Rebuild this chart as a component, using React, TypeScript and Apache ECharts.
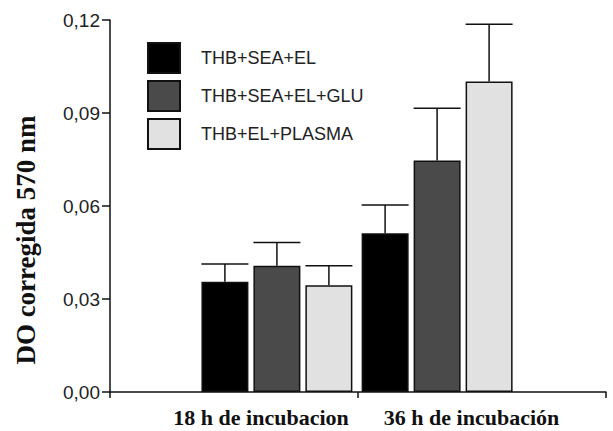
import React, { useEffect, useRef } from "react";
import * as echarts from "echarts";

const categories = ["18 h de incubacion", "36 h de incubación"];
const seriesNames = ["THB+SEA+EL", "THB+SEA+EL+GLU", "THB+EL+PLASMA"];
const meanSeaEl = [0.0356, 0.0512];
const meanSeaElGlu = [0.0407, 0.0747];
const meanElPlasma = [0.0344, 0.1002];
const errSeaEl = [0.0057, 0.0091];
const errSeaElGlu = [0.0075, 0.0168];
const errElPlasma = [0.0063, 0.0184];
const yTicks = [0, 0.03, 0.06, 0.09, 0.12];

// layout constants (axis units on the 0..2 x scale)
const groupX = [0.673, 1.319];
const labelX = [0.609, 1.458];
const colors = ["#000000", "#4a4a4a", "#e1e1e1"];
const BAR_W = 47;
const GAP = 5;

export default function App() {
  const ref = useRef<HTMLDivElement>(null);
  useEffect(() => {
    if (!ref.current) return;
    const chart = echarts.init(ref.current, undefined, { renderer: "svg" });
    const means = [meanSeaEl, meanSeaElGlu, meanElPlasma];
    const errs = [errSeaEl, errSeaElGlu, errElPlasma];
    const barSeries = seriesNames.map((name, i) => ({
      name,
      type: "bar",
      barWidth: BAR_W,
      barGap: ((GAP / BAR_W) * 100).toFixed(1) + "%",
      data: means[i].map((v, j) => [groupX[j], v]),
      itemStyle: { color: colors[i], borderColor: "#111", borderWidth: 1.5 },
      emphasis: { disabled: true },
    }));
    const errData: number[][] = [];
    means.forEach((m, i) =>
      m.forEach((v, j) => errData.push([groupX[j], v, errs[i][j], i]))
    );
    const errSeries = {
      type: "custom",
      name: "err",
      z: 5,
      data: errData,
      renderItem: (params: any, api: any) => {
        const x = api.value(0);
        const y = api.value(1);
        const e = api.value(2);
        const idx = api.value(3);
        const p = api.coord([x, y]);
        const t = api.coord([x, y + e]);
        const cx = p[0] + (idx - 1) * (BAR_W + GAP);
        const style = { stroke: "#111", lineWidth: 1.5 };
        return {
          type: "group",
          children: [
            { type: "line", shape: { x1: cx, y1: p[1], x2: cx, y2: t[1] }, style },
            {
              type: "line",
              shape: { x1: cx - BAR_W / 2, y1: t[1], x2: cx + BAR_W / 2, y2: t[1] },
              style,
            },
          ],
        };
      },
    };
    chart.setOption({
      animation: false,
      backgroundColor: "#ffffff",
      grid: { left: 110, top: 20, right: 7, bottom: 39, containLabel: false },
      legend: {
        orient: "vertical",
        left: 147,
        top: 42,
        padding: 0,
        itemWidth: 32,
        itemHeight: 30,
        itemGap: 6,
        icon: "rect",
        data: seriesNames,
        textStyle: {
          fontFamily: "Liberation Sans, Arial, sans-serif",
          fontSize: 18,
          color: "#222",
          padding: [0, 0, 0, 16],
        },
        selectedMode: false,
      },
      xAxis: {
        type: "value",
        min: 0,
        max: 2,
        interval: 1,
        splitLine: { show: false },
        axisLine: { show: true, lineStyle: { color: "#111", width: 1.5 } },
        axisTick: { show: true, length: 6, customValues: [0, 1, 2], lineStyle: { color: "#111", width: 1.5 } },
        axisLabel: {
          customValues: labelX,
          formatter: (v: number) => {
            const k = labelX.findIndex((q) => Math.abs(q - v) < 1e-6);
            return k >= 0 ? categories[k] : "";
          },
          margin: 14,
          fontFamily: "Liberation Serif, Times New Roman, serif",
          fontWeight: "bold",
          fontSize: 22,
          color: "#111",
        },
      },
      yAxis: {
        type: "value",
        min: 0,
        max: 0.12,
        interval: 0.03,
        splitLine: { show: false },
        axisLine: { show: true, lineStyle: { color: "#111", width: 1.5 } },
        axisTick: { show: true, length: 8, lineStyle: { color: "#111", width: 1.5 } },
        axisLabel: {
          customValues: yTicks,
          formatter: (v: number) => v.toFixed(2).replace(".", ","),
          margin: 10,
          fontFamily: "Liberation Sans, Arial, sans-serif",
          fontSize: 19,
          color: "#222",
        },
        name: "DO corregida 570 nm",
        nameLocation: "middle",
        nameGap: 71,
        nameTextStyle: {
          fontFamily: "Liberation Serif, Times New Roman, serif",
          fontWeight: "bold",
          fontSize: 27,
          color: "#111",
          padding: [0, 68, 0, 0],
        },
      },
      series: [...barSeries, errSeries],
    });
    return () => chart.dispose();
  }, []);
  return (
    <div
      ref={ref}
      style={{ position: "absolute", left: 0, top: 0, width: 613, height: 431 }}
    />
  );
}
